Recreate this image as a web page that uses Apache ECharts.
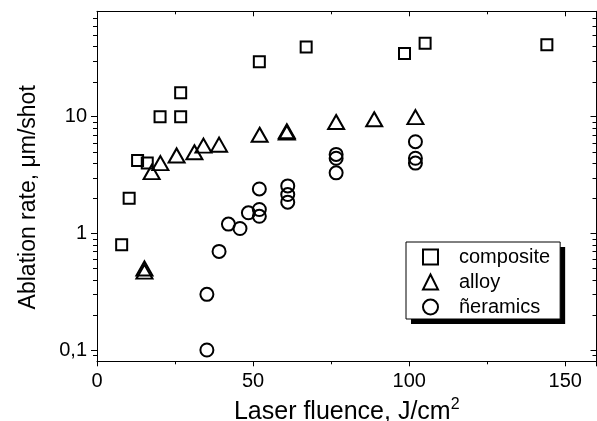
<!DOCTYPE html>
<html>
<head>
<meta charset="utf-8">
<script src="https://cdn.jsdelivr.net/npm/echarts@6/dist/echarts.min.js"></script>
<style>
html,body{margin:0;padding:0;background:#fff;overflow:hidden;}
#chart{width:597px;height:421px;}
</style>
</head>
<body>
<div id="chart"></div>
<script>
// ---- data ----
const seriesNames = ['composite', 'alloy', 'ñeramics'];

const compositeX = [7.9, 10.3, 13.0, 16.1, 20.2, 26.8, 26.8, 52.0, 67.0, 98.5, 105.1, 144.1];
const compositeY = [0.8, 2.0, 4.2, 4.0, 10, 10, 16, 29.6, 39.5, 34.7, 42.5, 41.4];

const alloyX = [15.2, 15.2, 17.5, 20.3, 25.5, 31.2, 34.1, 39.1, 52.1, 60.8, 60.8, 76.6, 88.8, 102.0];
const alloyY = [0.5, 0.47, 3.35, 4.0, 4.65, 4.95, 5.65, 5.75, 7.0, 7.5, 7.3, 9.0, 9.5, 9.9];

const ceramicsX = [35.2, 35.2, 39.1, 42.1, 45.8, 48.5, 52.0, 52.0, 52.0, 61.1, 61.1, 61.1, 76.6, 76.6, 76.6, 102.0, 102.0, 102.0];
const ceramicsY = [0.1, 0.3, 0.7, 1.2, 1.1, 1.5, 1.4, 1.6, 2.4, 1.85, 2.15, 2.55, 4.75, 4.4, 3.3, 6.1, 4.4, 4.0];

const xMin = 0, xMax = 160, xInterval = 50;
const yMin = 0.08, yMax = 80;
const yTickLabels = {'-1': '0,1', '0': '1', '1': '10'};
const yMinorTicks = [0.09, 0.2, 0.3, 0.4, 0.5, 0.6, 0.7, 0.8, 0.9, 2, 3, 4, 5, 6, 7, 8, 9, 20, 30, 40, 50, 60, 70];

// ---- chart ----
const FONT = '"Liberation Sans", Arial, Helvetica, sans-serif';
const zip = (xs, ys) => xs.map((x, i) => [x, ys[i]]);

const markerStyle = {color: 'rgba(0,0,0,0)', borderColor: '#000', borderWidth: 2, opacity: 1};

const chart = echarts.init(document.getElementById('chart'), null, {renderer: 'canvas'});

const axisLine = {show: true, onZero: false, lineStyle: {color: '#000', width: 1}};

function yLabel(v) {
  const l = Math.log10(v);
  const r = Math.round(l);
  if (Math.abs(l - r) < 1e-6 && yTickLabels[String(r)] !== undefined) return yTickLabels[String(r)];
  return '';
}

const legendBase = {
  orient: 'vertical',
  left: 406, top: 242,
  data: seriesNames,
  itemWidth: 15, itemHeight: 15, itemGap: 5,
  padding: [5, 10, 2, 16],
  borderRadius: 0,
  selectedMode: false
};

const option = {
  animation: false,
  backgroundColor: '#fff',
  textStyle: {fontFamily: FONT},
  grid: {left: 97, right: 0.5, top: 11.3, bottom: 59.7, containLabel: false, outerBoundsMode: 'none'},
  legend: [
    Object.assign({}, legendBase, {
      z: 4,
      backgroundColor: '#fff', borderWidth: 0,
      shadowColor: '#000', shadowBlur: 0, shadowOffsetX: 5, shadowOffsetY: 5,
      itemStyle: {borderWidth: 2, borderColor: '#000', color: 'rgba(0,0,0,0)', opacity: 1},
      textStyle: {fontFamily: FONT, fontSize: 20, color: '#000', padding: [0, 0, 0, 16]}
    }),
    Object.assign({}, legendBase, {
      z: 5,
      backgroundColor: 'rgba(0,0,0,0)', borderColor: '#000', borderWidth: 1,
      itemStyle: {opacity: 0},
      textStyle: {fontFamily: FONT, fontSize: 20, color: 'rgba(0,0,0,0)', padding: [0, 0, 0, 16]}
    })
  ],
  xAxis: [{
    type: 'value', position: 'bottom', min: xMin, max: xMax, interval: xInterval,
    axisLine: axisLine,
    axisTick: {show: true, inside: false, length: 5, lineStyle: {color: '#000'}},
    minorTick: {show: true, splitNumber: 2, length: 3, lineStyle: {color: '#000'}},
    splitLine: {show: false},
    axisLabel: {fontFamily: FONT, fontSize: 20, color: '#000', margin: 10,
      formatter: v => (v % 50 === 0 ? String(v) : '')},
    name: 'Laser fluence, J/cm{sup|2}',
    nameLocation: 'middle', nameGap: 28,
    nameTextStyle: {fontFamily: FONT, fontSize: 25, color: '#000',
      rich: {sup: {fontFamily: FONT, fontSize: 16, color: '#000', verticalAlign: 'top', padding: [0, 0, 15, 0]}}}
  }, {
    type: 'value', position: 'top', min: xMin, max: xMax, interval: xInterval,
    axisLine: axisLine,
    axisTick: {show: true, inside: true, length: 5, lineStyle: {color: '#000'}},
    minorTick: {show: true, splitNumber: 2, length: 3, lineStyle: {color: '#000'}},
    splitLine: {show: false},
    axisLabel: {show: false}
  }],
  yAxis: [{
    type: 'log', logBase: 10, position: 'left', min: yMin, max: yMax,
    axisLine: axisLine,
    axisTick: {show: true, inside: false, length: 6, lineStyle: {color: '#000'}},
    splitLine: {show: false},
    axisLabel: {fontFamily: FONT, fontSize: 20, color: '#000', margin: 10, formatter: yLabel,
      showMinLabel: false, showMaxLabel: false},
    name: 'Ablation rate, μm/shot',
    nameLocation: 'middle', nameGap: 57, nameRotate: 90,
    nameTextStyle: {fontFamily: FONT, fontSize: 23, color: '#000', padding: [0, 22, 0, 0]}
  }, {
    type: 'log', logBase: 10, position: 'right', min: yMin, max: yMax,
    axisLine: axisLine,
    axisTick: {show: true, inside: true, length: 6, lineStyle: {color: '#000'}},
    splitLine: {show: false},
    axisLabel: {show: false}
  }],
  series: [{
    name: seriesNames[0], type: 'scatter', symbol: 'rect', symbolSize: 11,
    itemStyle: markerStyle, data: zip(compositeX, compositeY), z: 3
  }, {
    name: seriesNames[1], type: 'scatter', symbol: 'triangle', symbolSize: [16, 14],
    itemStyle: markerStyle, data: zip(alloyX, alloyY), z: 3
  }, {
    name: seriesNames[2], type: 'scatter', symbol: 'circle', symbolSize: 13,
    itemStyle: markerStyle, data: zip(ceramicsX, ceramicsY), z: 3
  }, {
    name: 'minorTicks', type: 'custom', silent: true, clip: false, z: 1,
    data: yMinorTicks.map(v => [xMin, v]),
    renderItem: function (params, api) {
      const cs = params.coordSys;
      const y = Math.round(api.coord([xMin, api.value(1)])[1]) + 0.5;
      const x0 = cs.x, x1 = cs.x + cs.width;
      return {
        type: 'group',
        children: [
          {type: 'line', shape: {x1: x0 - 4, y1: y, x2: x0, y2: y}, style: {stroke: '#000', lineWidth: 1}},
          {type: 'line', shape: {x1: x1 - 4, y1: y, x2: x1, y2: y}, style: {stroke: '#000', lineWidth: 1}}
        ]
      };
    }
  }]
};
chart.setOption(option);
</script>
</body>
</html>
